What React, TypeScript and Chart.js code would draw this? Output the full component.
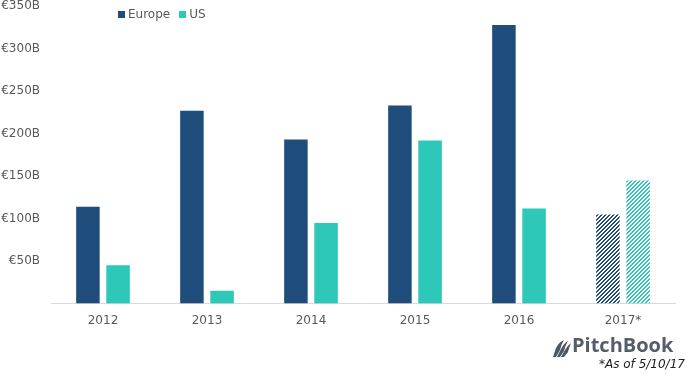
import React, { useEffect, useRef } from "react";
import { Chart, registerables } from "chart.js";

Chart.register(...registerables);

const categories = ["2012", "2013", "2014", "2015", "2016", "2017*"];
const europeValues = [114, 227, 193, 233, 328, 105];
const usValues = [45, 15, 95, 192, 112, 145];
const yTicks = [50, 100, 150, 200, 250, 300, 350];

const EUROPE = "#1F4E7D";
const US = "#2EC8B8";
const TEXT = "#595959";

function hatch(color: string): CanvasPattern | string {
  const c = document.createElement("canvas");
  c.width = 4;
  c.height = 4;
  const g = c.getContext("2d");
  if (!g) return color;
  g.fillStyle = color;
  for (let i = 0; i < 4; i++) {
    g.fillRect(i, 3 - i, 1, 1);
    g.fillRect((i + 1) % 4, 3 - i, 1, 1);
  }
  const p = g.createPattern(c, "repeat");
  return p || color;
}

export default function App() {
  const ref = useRef<HTMLCanvasElement | null>(null);
  useEffect(() => {
    if (!ref.current) return;
    const eu = hatch(EUROPE);
    const us = hatch(US);
    const n = categories.length;
    const euColors = categories.map((_, i) => (i === n - 1 ? eu : EUROPE));
    const usColors = categories.map((_, i) => (i === n - 1 ? us : US));
    const chart = new Chart(ref.current, {
      type: "bar",
      data: {
        labels: categories,
        datasets: [
          { label: "Europe", data: europeValues, backgroundColor: euColors as any, barPercentage: 0.78, categoryPercentage: 0.58 },
          { label: "US", data: usValues, backgroundColor: usColors as any, barPercentage: 0.78, categoryPercentage: 0.58 },
        ],
      },
      options: {
        animation: false,
        responsive: false,
        layout: { padding: { left: 0, right: 15, top: 0, bottom: 39 } },
        plugins: { legend: { display: false }, tooltip: { enabled: false } },
        scales: {
          x: {
            grid: { display: false, drawTicks: false },
            border: { display: true, color: "#D9D9D9", width: 1 },
            ticks: { color: TEXT, font: { family: "DejaVu Sans", size: 12 }, padding: 10 },
          },
          y: {
            min: 0,
            max: 350,
            grid: { display: false, drawTicks: false },
            border: { display: false },
            afterBuildTicks: (axis: any) => {
              axis.ticks = yTicks.map((v) => ({ value: v }));
            },
            afterFit: (axis: any) => {
              axis.width = 51;
            },
            ticks: {
              color: TEXT,
              font: { family: "DejaVu Sans", size: 12 },
              padding: 11,
              callback: (v: any) => "€" + v + "B",
            },
          },
        },
      },
    });
    return () => chart.destroy();
  }, []);

  return (
    <div style={{ position: "fixed", left: 0, top: 0, width: 690, height: 377, background: "#fff", overflow: "hidden" }}>
      <canvas ref={ref} width={690} height={389} style={{ position: "absolute", left: 0, top: -12 }} />
      <div style={{ position: "absolute", left: 118, top: 6, display: "flex", alignItems: "center", fontFamily: "DejaVu Sans", fontSize: 12, color: TEXT, lineHeight: "16px" }}>
        <span style={{ display: "inline-block", width: 7, height: 7, background: EUROPE, marginRight: 3 }} />
        <span>Europe</span>
        <span style={{ display: "inline-block", width: 7, height: 7, background: US, marginLeft: 9, marginRight: 3 }} />
        <span>US</span>
      </div>
      <svg width={18} height={17} viewBox="0 0 18 17" style={{ position: "absolute", left: 553, top: 340 }}>
        <path d="M0 17 L3 8 Q6 2 11 0 Q8 5 7 10 L3 17 Z" fill="#4F5766" />
        <path d="M4 17 L8 9 Q11 3 15 1 Q12 6 11 11 L7 17 Z" fill="#4F5766" />
        <path d="M8 17 L12 10 Q15 5 18 3 Q16 8 15 12 L11 17 Z" fill="#4F5766" />
      </svg>
      <div style={{ position: "absolute", left: 572, top: 332, fontFamily: "Open Sans", fontWeight: 700, fontSize: 20, color: "#555D6B", lineHeight: "26px" }}>PitchBook</div>
      <div style={{ position: "absolute", left: 599, top: 357, fontFamily: "DejaVu Sans", fontStyle: "italic", fontSize: 12, color: "#222", lineHeight: "14px" }}>*As of 5/10/17</div>
    </div>
  );
}
